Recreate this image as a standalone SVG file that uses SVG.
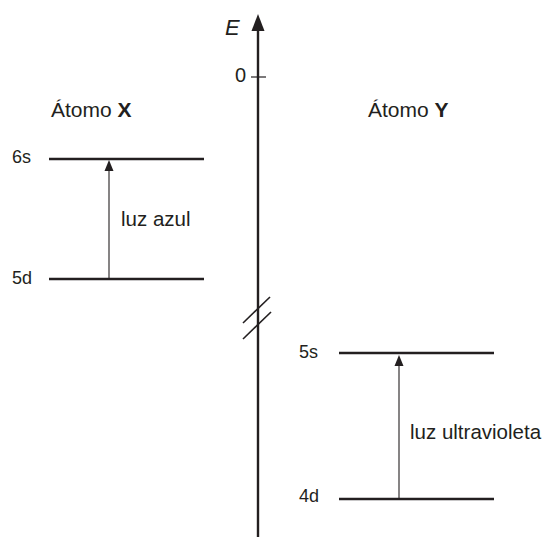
<svg xmlns="http://www.w3.org/2000/svg" width="546" height="540" viewBox="0 0 546 540">
<style>
text{font-family:"Liberation Sans",Arial,sans-serif;fill:#231f20}
.lvl{stroke:#231f20;stroke-width:2.6;fill:none}
.ax{stroke:#231f20;stroke-width:2.4;fill:none}
.tr{stroke:#231f20;stroke-width:1.1;fill:none}
.ah{fill:#231f20}
.s{font-size:18px}
.t{font-size:21px}
.l{font-size:20.5px}
</style>
<rect width="546" height="540" fill="#fff"/>
<g id="axis">
<line class="ax" x1="258" y1="537" x2="258" y2="28"/>
<path class="ah" d="M258,14 L264.5,31 L251.5,31 Z"/>
<line x1="251" y1="77" x2="266" y2="77" stroke="#231f20" stroke-width="1.2"/>
<line x1="243" y1="323" x2="270" y2="297" stroke="#231f20" stroke-width="1.6"/>
<line x1="243" y1="339" x2="271" y2="312" stroke="#231f20" stroke-width="1.6"/>
<text x="225" y="35" font-size="22" font-style="italic">E</text>
<text x="235" y="82" font-size="20">0</text>
</g>
<g id="atomX">
<text x="51" y="117" class="t">Átomo <tspan font-weight="bold">X</tspan></text>
</g>
<g id="level6s"><line class="lvl" x1="49" y1="159" x2="204" y2="159"/><text x="12" y="163" class="s">6s</text></g>
<g id="level5d"><line class="lvl" x1="49" y1="279" x2="204" y2="279"/><text x="12" y="284" class="s">5d</text></g>
<g id="atomY">
<text x="368" y="117" class="t">Átomo <tspan font-weight="bold">Y</tspan></text>
</g>
<g id="level5s"><line class="lvl" x1="339" y1="353" x2="494" y2="353"/><text x="299" y="358" class="s">5s</text></g>
<g id="level4d"><line class="lvl" x1="339" y1="499" x2="494" y2="499"/><text x="299" y="502" class="s">4d</text></g>
<g id="connectors">
<line class="tr" x1="109" y1="279" x2="109" y2="169"/>
<path class="ah" d="M109,160 L113.5,171 L104.5,171 Z"/>
<line class="tr" x1="399" y1="499" x2="399" y2="364"/>
<path class="ah" d="M399,355 L403.5,366 L394.5,366 Z"/>
<text x="121" y="226" class="l">luz azul</text>
<text x="410" y="439" class="l">luz ultravioleta</text>
</g>
</svg>
